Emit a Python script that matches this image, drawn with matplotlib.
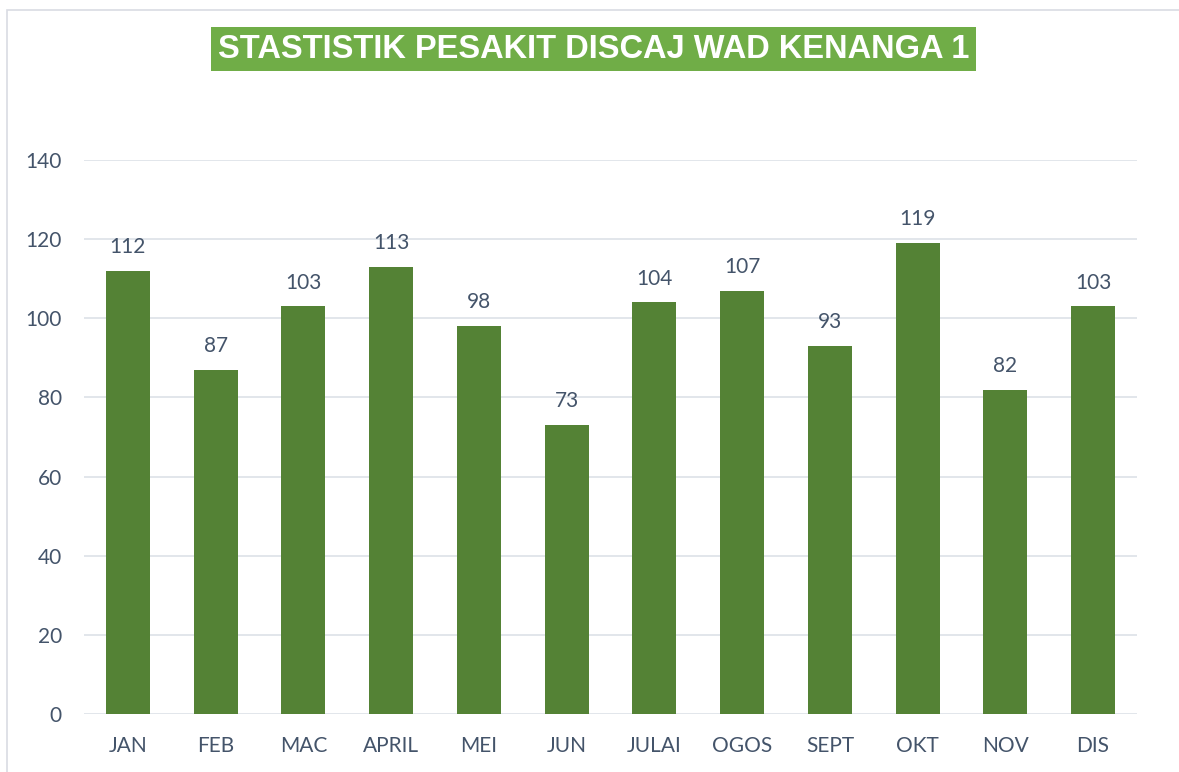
import matplotlib
matplotlib.use("Agg")
import matplotlib.pyplot as plt
from matplotlib.patches import Rectangle

months = ["JAN", "FEB", "MAC", "APRIL", "MEI", "JUN", "JULAI", "OGOS", "SEPT", "OKT", "NOV", "DIS"]
values = [112, 87, 103, 113, 98, 73, 104, 107, 93, 119, 82, 103]
yticks = [0, 20, 40, 60, 80, 100, 120, 140]
title = "STASTISTIK PESAKIT DISCAJ WAD KENANGA 1"

W, H = 1179, 772
fig = plt.figure(figsize=(W / 100, H / 100), dpi=100)
fig.patch.set_facecolor("white")

# outer chart border
fig.add_artist(Rectangle((7 / W, -0.01), 1.2, 1 - 10 / H + 0.01, transform=fig.transFigure,
                         fill=False, edgecolor="#D9DCE3", linewidth=1.2))

ax = fig.add_axes([84 / W, 1 - 714 / H, (1137 - 84) / W, (714 - 160) / H])
x = list(range(len(months)))
ax.bar(x, values, width=0.5, color="#548235", zorder=3)
ax.set_xlim(-0.5, len(months) - 0.5)
ax.set_ylim(0, 140)
ax.set_yticks(yticks)
ax.grid(axis="y", color="#DDE1E8", linewidth=1.2, zorder=0)
for s in ax.spines.values():
    s.set_visible(False)
ax.tick_params(length=0, labelsize=15, labelcolor="#44546A")
ax.tick_params(axis="x", pad=16)
ax.tick_params(axis="y", pad=16)
ax.set_xticks(x)
ax.set_xticklabels(months)
for lbl in ax.get_xticklabels() + ax.get_yticklabels():
    lbl.set_fontfamily("Lato")
for xi, v in zip(x, values):
    ax.annotate(str(v), (xi, v), xytext=(0, 10), textcoords="offset points",
                ha="center", va="bottom", fontsize=15, color="#44546A", family="Lato")

fig.text(0.5 * (215 + 972) / W, 1 - 49 / H, title, ha="center", va="center",
         fontsize=23.5, fontweight="bold", color="white", family="Liberation Sans",
         bbox=dict(boxstyle="square,pad=0.2", facecolor="#70AD47", edgecolor="none"))

fig.savefig("out.png", dpi=100)
